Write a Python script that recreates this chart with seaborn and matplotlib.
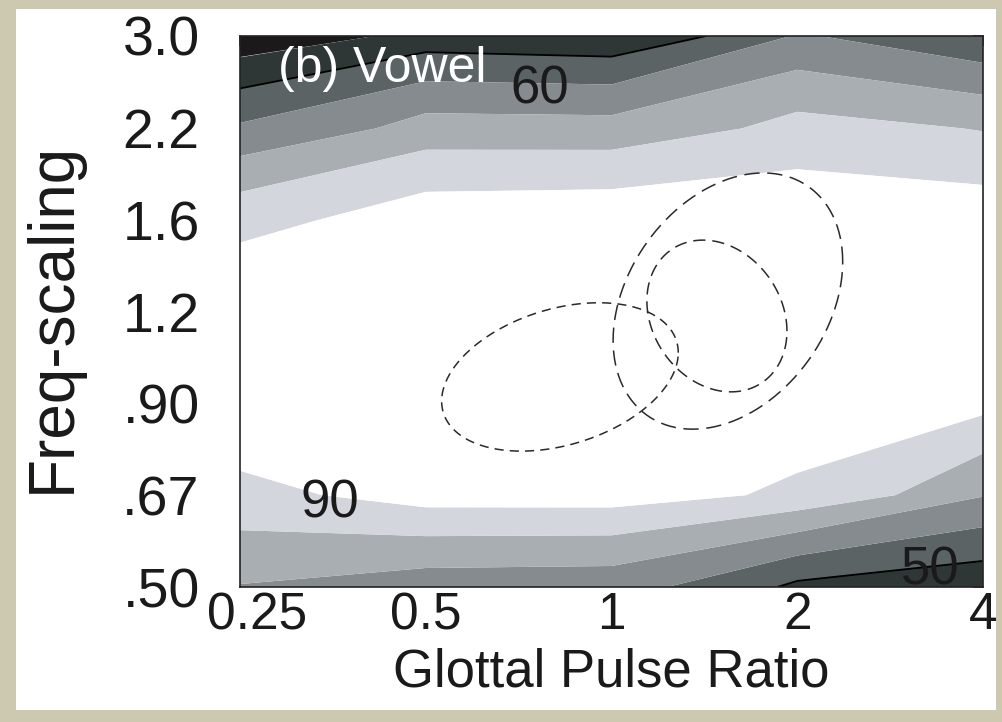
import numpy as np
import pandas as pd
import matplotlib
matplotlib.use("Agg")
import matplotlib.pyplot as plt
import seaborn as sns
from matplotlib.transforms import ScaledTranslation
from matplotlib.patches import Rectangle

# ---------------- data ----------------
gpr = [0.25, 0.5, 1, 2, 4]
gpr_labels = ["0.25", "0.5", "1", "2", "4"]
fs = [0.5, 0.674, 0.908, 1.223, 1.648, 2.221, 3.0]
fs_labels = [".50", ".67", ".90", "1.2", "1.6", "2.2", "3.0"]

# percent correct; one list per freq-scaling row (bottom -> top), columns follow gpr
pc_050 = [69.5, 64.5, 63.7, 47.7, 43.0]
pc_067 = [87.5, 94.5, 94.7, 87.5, 70.5]
pc_091 = [98.0, 99.0, 99.0, 99.0, 93.2]
pc_122 = [98.0, 99.0, 99.0, 99.0, 98.0]
pc_165 = [87.0, 96.0, 97.0, 96.9, 95.7]
pc_222 = [61.5, 74.4, 74.0, 83.6, 79.4]
pc_300 = [32.5, 44.0, 42.0, 60.9, 50.8]

levels = [0, 40, 50, 60, 70, 80, 90, 101]
band_colors = ["#1b1919", "#2f3636", "#5c6365", "#868b90", "#a9aeb3", "#d3d6dd", "#ffffff"]
line_levels = [50]

label_text = ["60", "90", "50"]
label_gpr = [0.766, 0.350, 3.28]
label_fs = [2.52, 0.655, 0.528]

# dashed ellipses (centre, spread in octaves, correlation)
ell_name = ["A", "B", "C"]
ell_gpr = [0.825, 1.544, 1.482]
ell_fs = [0.99, 1.267, 1.207]
ell_sd_x = [0.637, 0.618, 0.377]
ell_sd_y = [0.348, 0.601, 0.356]
ell_rho = [0.327, 0.307, -0.2]

# ---------------- style ----------------
sns.set_theme(style="white")
plt.rcParams["font.family"] = ["Liberation Sans", "DejaVu Sans"]

fig = plt.figure(figsize=(10.03, 7.22), dpi=100, facecolor="#cdc9b1")
fig.add_artist(Rectangle((16 / 1003, 12 / 722), 980 / 1003, 701 / 722,
                         transform=fig.transFigure, facecolor="white",
                         edgecolor="none", zorder=-1))
ax = fig.add_axes([240 / 1003, 1 - 587 / 722, 743 / 1003, 551 / 722])

Z = np.array([pc_050, pc_067, pc_091, pc_122, pc_165, pc_222, pc_300])
X, Y = np.meshgrid(gpr, fs)
ax.contourf(X, Y, Z, levels=levels, colors=band_colors, antialiased=True)
ax.contour(X, Y, Z, levels=line_levels, colors="black", linewidths=1.3)

# ellipses
t = np.linspace(0, 2 * np.pi, 241)
rows = []
for n, cx, cy, sx, sy, r in zip(ell_name, ell_gpr, ell_fs, ell_sd_x, ell_sd_y, ell_rho):
    u = np.log2(cx) + sx * np.cos(t)
    v = np.log2(cy) + r * sy * np.cos(t) + sy * np.sqrt(1 - r ** 2) * np.sin(t)
    rows.append(pd.DataFrame({"x": 2 ** u, "y": 2 ** v, "name": n}))
ell = pd.concat(rows, ignore_index=True)
sns.lineplot(data=ell, x="x", y="y", style="name", units="name", estimator=None,
             sort=False, dashes={"A": (6, 4), "B": (10, 5), "C": (8, 4.5)},
             color="#2a2a2a", linewidth=1.1, legend=False, ax=ax)

ax.set_xscale("log", base=2)
ax.set_yscale("log")
ax.set_xlim(gpr[0], gpr[-1])
ax.set_ylim(fs[0], fs[-1])
ax.set_xticks(gpr)
ax.set_xticklabels(gpr_labels)
ax.set_yticks(fs)
ax.set_yticklabels(fs_labels)
ax.minorticks_off()
ax.tick_params(axis="both", which="major", direction="in", length=7, width=1.1,
               color="#222222", top=True, right=True, labelcolor="#1a1a1a")
ax.tick_params(axis="y", pad=29, labelsize=40)
ax.tick_params(axis="x", pad=3, labelsize=37)
for sp in ax.spines.values():
    sp.set_color("#222222")
    sp.set_linewidth(1.2)
    sp.set_visible(True)

lbl0 = ax.get_xticklabels()[0]
lbl0.set_transform(lbl0.get_transform() + ScaledTranslation(12 / 72, 0, fig.dpi_scale_trans))

ax.set_xlabel("Glottal Pulse Ratio", fontsize=38, color="#1a1a1a")
ax.set_ylabel("Freq-scaling", fontsize=46, color="#1a1a1a")
ax.xaxis.set_label_coords(0.5, -0.11)
ax.yaxis.set_label_coords(-0.212, 0.49)

for s, gx, gy in zip(label_text, label_gpr, label_fs):
    ax.text(gx, gy, s, ha="center", va="center", fontsize=38, color="#1a1a1a")

ax.text(0.051, 0.9165, "(b) Vowel", transform=ax.transAxes, ha="left", va="baseline",
        fontsize=36, color="white")

fig.savefig("out.png", dpi=100, facecolor=fig.get_facecolor())
